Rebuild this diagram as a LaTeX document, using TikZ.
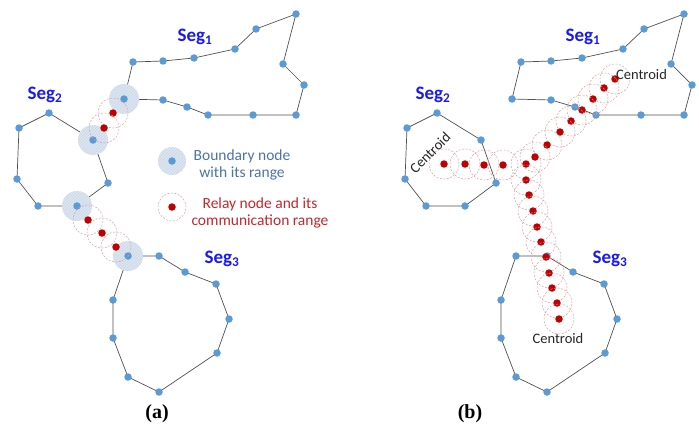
\documentclass[tikz,border=0pt]{standalone}
\usepackage{fontspec}
\setmainfont{Carlito}
\newfontfamily\capfont{Liberation Serif}
\usetikzlibrary{patterns,backgrounds}
\definecolor{nodeblue}{HTML}{5B9BD5}
\definecolor{relayred}{HTML}{C00000}
\definecolor{rangered}{HTML}{E39A9A}
\definecolor{bndfill}{HTML}{DCE5F0}
\definecolor{bndhatch}{HTML}{C9D7E8}
\definecolor{hullgray}{HTML}{505050}
\definecolor{segblue}{HTML}{1A1AF0}
\definecolor{lgdblue}{HTML}{4A74AA}
\definecolor{lgdred}{HTML}{C0282D}
\tikzset{
  bnd/.style={circle, fill=nodeblue, inner sep=0pt, minimum size=7.5pt},
  rly/.style={circle, fill=relayred, inner sep=0pt, minimum size=7.5pt},
  hull/.style={draw=hullgray, line width=0.7pt, line join=round},
  rng/.style={draw=rangered, line width=0.5pt, dash pattern=on 2pt off 1.5pt},
  bndrng/.style={preaction={fill=bndfill}, pattern=north east lines, pattern color=bndhatch},
  seglbl/.style={font=\bfseries\fontsize{19}{19}\selectfont, text=segblue},
  cen/.style={font=\fontsize{14.5}{14.5}\selectfont, text=black!85, inner sep=1pt},
  lgd/.style={font=\fontsize{15.5}{17.5}\selectfont, align=center},
  subcap/.style={font=\capfont\bfseries\fontsize{20}{20}\selectfont}
}
\begin{document}
\begin{tikzpicture}[x=1pt, y=-1pt]
  \useasboundingbox (0,0) rectangle (699,428);

  % the three segments, same in both panels
  \foreach \p/\dx in {a/0, b/388}{
    \begin{scope}[xshift=\dx]
      \foreach \x/\y [count=\i] in {296/14, 256/29, 235/49, 194/58, 163/61, 133/62, 124/99,
                                    163/100, 187/107, 208/115, 253/115, 296/115, 304/85, 283/64}
        \node[bnd] (\p1-\i) at (\x,\y) {};
      \foreach \x/\y [count=\i] in {49/113, 19/128, 17/179, 38/206, 77/206, 108/183, 93/140}
        \node[bnd] (\p2-\i) at (\x,\y) {};
      \foreach \x/\y [count=\i] in {128/256, 159/256, 185/272, 216/284, 229/319,
                                    217/353, 159/392, 128/377, 113/338, 113/300}
        \node[bnd] (\p3-\i) at (\x,\y) {};
      \begin{scope}[on background layer]
        \draw[hull] (\p1-1.center) \foreach \i in {2,...,14}{ -- (\p1-\i.center)} -- cycle;
        \draw[hull] (\p2-1.center) \foreach \i in {2,...,7}{ -- (\p2-\i.center)} -- cycle;
        \draw[hull] (\p3-1.center) \foreach \i in {2,...,10}{ -- (\p3-\i.center)} -- cycle;
      \end{scope}
      \node[seglbl] (\p seg1) at (195,37) {Seg\textsubscript{1}};
      \node[seglbl] (\p seg2) at (45,95) {Seg\textsubscript{2}};
      \node[seglbl] (\p seg3) at (222,259) {Seg\textsubscript{3}};
    \end{scope}
  }

  % (a) boundary nodes with range, relays
  \begin{scope}[on background layer]
    \foreach \n in {a1-7, a2-7, a2-5, a3-1}
      \fill[bndrng] (\n.center) circle[radius=15pt];
  \end{scope}
  \foreach \x/\y [count=\i] in {113/113, 104/128, 88/220, 102/233, 116/247}{
    \node[rly] (ar\i) at (\x,\y) {};
    \draw[rng] (ar\i.center) circle[radius=15pt];
  }

  % legend
  \fill[bndrng] (172,161) circle[radius=14pt];
  \node[bnd] (lgdb) at (172,161) {};
  \node[lgd, text=lgdblue] (lgdbt) at (242,165) {Boundary node\\with its range};
  \node[rly] (lgdr) at (172,207) {};
  \draw[rng] (lgdr.center) circle[radius=14pt];
  \node[lgd, text=lgdred] (lgdrt) at (260,213) {Relay node and its\\communication range};

  % (b) relays from the centroids
  \foreach \x/\y [count=\i] in {444/164, 465/164, 484/165, 503/165,
                                615/79, 604/88, 593/99, 582/110, 571/121, 560/132, 547/145,
                                535/157, 526/164, 526/180, 529/195, 533/211, 537/227, 541/242,
                                546/257, 549/273, 552/288, 557/303, 559/319}{
    \node[rly] (br\i) at (\x,\y) {};
    \draw[rng] (br\i.center) circle[radius=15pt];
  }
  \node[cen, anchor=west] (cen1) at (615,75) {Centroid};
  \node[cen, rotate=45] (cen2) at (430,153) {Centroid};
  \node[cen] (cen3) at (558,339) {Centroid};

  \node[subcap] (capa) at (157,414) {(a)};
  \node[subcap] (capb) at (470,414) {(b)};
\end{tikzpicture}
\end{document}
